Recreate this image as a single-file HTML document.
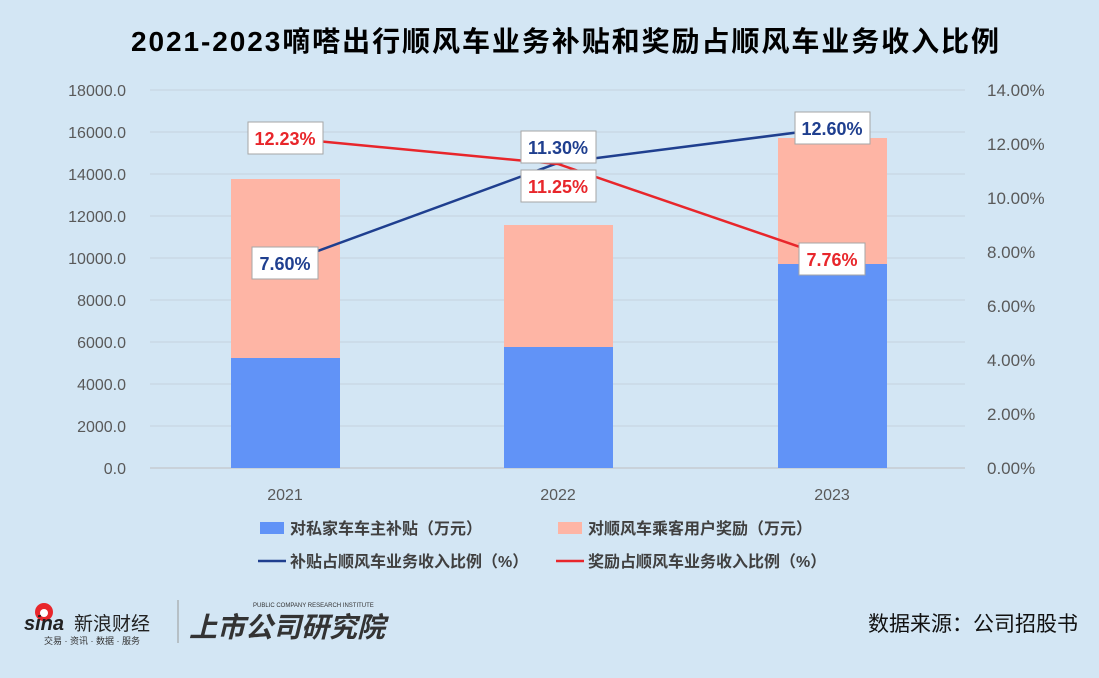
<!DOCTYPE html>
<html><head><meta charset="utf-8"><style>
body{margin:0;width:1099px;height:678px;background:#d3e6f4;overflow:hidden}
svg{display:block}
text{font-family:"Liberation Sans","Noto Sans CJK SC",sans-serif}
</style></head><body>
<svg width="1099" height="678" viewBox="0 0 1099 678">
<rect width="1099" height="678" fill="#d3e6f4"/>
<text x="565" y="51" text-anchor="middle" font-size="28" font-weight="bold" fill="#000" textLength="868" lengthAdjust="spacing">2021-2023嘀嗒出行顺风车业务补贴和奖励占顺风车业务收入比例</text>
<g stroke="#c4d2de" stroke-width="1">
<line x1="150" x2="965" y1="90" y2="90"/><line x1="150" x2="965" y1="132" y2="132"/><line x1="150" x2="965" y1="174" y2="174"/><line x1="150" x2="965" y1="216" y2="216"/><line x1="150" x2="965" y1="258" y2="258"/><line x1="150" x2="965" y1="300" y2="300"/><line x1="150" x2="965" y1="342" y2="342"/><line x1="150" x2="965" y1="384" y2="384"/><line x1="150" x2="965" y1="426" y2="426"/>
</g>
<line x1="150" x2="965" y1="468" y2="468" stroke="#bfbfbf"/>
<g font-size="16" fill="#595959" text-anchor="end">
<text x="126" y="96">18000.0</text><text x="126" y="138">16000.0</text><text x="126" y="180">14000.0</text><text x="126" y="222">12000.0</text><text x="126" y="264">10000.0</text><text x="126" y="306">8000.0</text><text x="126" y="348">6000.0</text><text x="126" y="390">4000.0</text><text x="126" y="432">2000.0</text><text x="126" y="474">0.0</text>
</g>
<g font-size="17" fill="#595959">
<text x="987" y="96">14.00%</text><text x="987" y="150">12.00%</text><text x="987" y="204">10.00%</text><text x="987" y="258">8.00%</text><text x="987" y="312">6.00%</text><text x="987" y="366">4.00%</text><text x="987" y="420">2.00%</text><text x="987" y="474">0.00%</text>
</g>
<g fill="#6193f7">
<rect x="231" y="358" width="109" height="110"/><rect x="504" y="347" width="109" height="121"/><rect x="778" y="264" width="109" height="204"/>
</g>
<g fill="#feb5a5">
<rect x="231" y="179" width="109" height="179"/><rect x="504" y="225" width="109" height="122"/><rect x="778" y="138" width="109" height="126"/>
</g>
<g font-size="16" fill="#595959" text-anchor="middle">
<text x="285" y="500">2021</text><text x="558" y="500">2022</text><text x="832" y="500">2023</text>
</g>
<polyline points="285,263 558,163 832,128" fill="none" stroke="#1f3f8f" stroke-width="2.5"/>
<polyline points="285,138 558,164 832,258" fill="none" stroke="#e8262b" stroke-width="2.5"/>
<g stroke="#a6a6a6" fill="#fff">
<rect x="248" y="122" width="75" height="32"/><rect x="252" y="247" width="66" height="32"/>
<rect x="521" y="131" width="75" height="32"/><rect x="521" y="170" width="75" height="32"/>
<rect x="795" y="112" width="75" height="32"/><rect x="799" y="243" width="66" height="32"/>
</g>
<g font-size="18" font-weight="bold" text-anchor="middle">
<text x="285" y="145" fill="#e8262b">12.23%</text><text x="285" y="270" fill="#1f3f8f">7.60%</text>
<text x="558" y="154" fill="#1f3f8f">11.30%</text><text x="558" y="193" fill="#e8262b">11.25%</text>
<text x="832" y="135" fill="#1f3f8f">12.60%</text><text x="832" y="266" fill="#e8262b">7.76%</text>
</g>
<g font-size="16" fill="#404040" font-weight="bold">
<rect x="260" y="522" width="24" height="12" fill="#6193f7"/><text x="290" y="534">对私家车车主补贴（万元）</text>
<rect x="558" y="522" width="24" height="12" fill="#feb5a5"/><text x="588" y="534">对顺风车乘客用户奖励（万元）</text>
<line x1="258" x2="286" y1="561" y2="561" stroke="#1f3f8f" stroke-width="2.5"/><text x="290" y="567">补贴占顺风车业务收入比例（%）</text>
<line x1="556" x2="584" y1="561" y2="561" stroke="#e8262b" stroke-width="2.5"/><text x="588" y="567">奖励占顺风车业务收入比例（%）</text>
</g>
<circle cx="44" cy="612" r="9" fill="#e8262b"/><circle cx="44" cy="613" r="4" fill="#fff"/>
<text x="24" y="630" font-size="20" font-weight="bold" font-style="italic" fill="#222">sina</text>
<text x="74" y="630" font-size="19" fill="#222">新浪财经</text>
<text x="44" y="644" font-size="9" fill="#333">交易 · 资讯 · 数据 · 服务</text>
<line x1="178" x2="178" y1="600" y2="643" stroke="#999"/>
<text x="253" y="607" font-size="6" fill="#333">PUBLIC COMPANY RESEARCH INSTITUTE</text>
<text x="189" y="637" font-size="28" font-weight="bold" font-style="italic" fill="#333">上市公司研究院</text>
<text x="1078" y="631" text-anchor="end" font-size="21" fill="#111">数据来源：公司招股书</text>
</svg>
</body></html>
